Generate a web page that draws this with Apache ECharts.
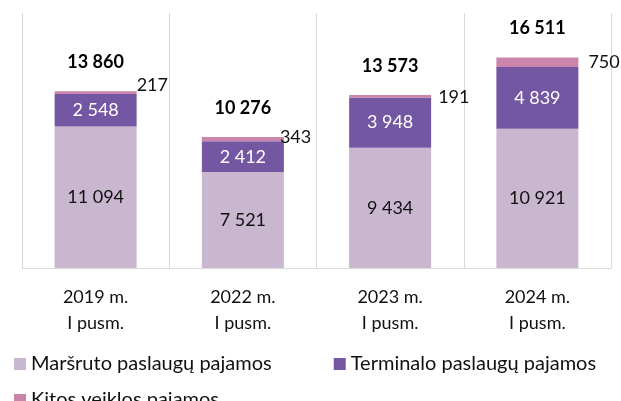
<!DOCTYPE html>
<html>
<head>
<meta charset="utf-8">
<script src="https://cdn.jsdelivr.net/npm/echarts@6/dist/echarts.min.js"></script>
<style>
html,body{margin:0;padding:0;background:#fff;}
#c{width:621px;height:401px;}
</style>
</head>
<body>
<div id="c"></div>
<script>
var categories = ['2019 m.\nI pusm.', '2022 m.\nI pusm.', '2023 m.\nI pusm.', '2024 m.\nI pusm.'];
var marsrutoValues = [11094, 7521, 9434, 10921];
var terminaloValues = [2548, 2412, 3948, 4839];
var kitosValues = [217, 343, 191, 750];
var totalValues = [13860, 10276, 13573, 16511];
var seriesNames = ['Maršruto paslaugų pajamos', 'Terminalo paslaugų pajamos', 'Kitos veiklos pajamos'];

var FONT = 'Lato';
var TXT = '#111';
function fmt(v) {
  return String(v).replace(/\B(?=(\d{3})+(?!\d))/g, ' ');
}
var kitosOffsets = [[-5, -7], [-9, -2], [2, 1], [5, 0]];

var chart = echarts.init(document.getElementById('c'), null, {renderer: 'canvas'});
chart.setOption({
  animation: false,
  textStyle: {fontFamily: FONT},
  grid: {left: 22, right: 10, top: 13, bottom: 133},
  legend: [{
    data: [seriesNames[0], seriesNames[1]],
    left: 9, top: 349,
    itemWidth: 12, itemHeight: 12, itemGap: 62,
    icon: 'rect',
    textStyle: {fontFamily: FONT, fontSize: 20, color: TXT}
  }, {
    data: [seriesNames[2]],
    left: 9, top: 385,
    itemWidth: 12, itemHeight: 12,
    icon: 'rect',
    textStyle: {fontFamily: FONT, fontSize: 20, color: TXT}
  }],
  xAxis: {
    type: 'category',
    data: categories,
    axisLine: {show: true, lineStyle: {color: '#d9d9d9', width: 1}},
    axisTick: {show: false},
    splitLine: {show: true, lineStyle: {color: '#d9d9d9', width: 1}},
    axisLabel: {fontFamily: FONT, fontSize: 18, color: TXT, lineHeight: 26, margin: 16}
  },
  yAxis: {
    type: 'value', min: 0, max: 20000, interval: 5000,
    show: false,
    splitLine: {show: false}
  },
  series: [{
    name: seriesNames[0], type: 'bar', stack: 'a', barWidth: 82,
    data: marsrutoValues,
    itemStyle: {color: '#c9b7d0'},
    label: {show: true, position: 'inside', color: TXT, fontFamily: FONT, fontSize: 18,
      formatter: function (p) { return fmt(p.value); }}
  }, {
    name: seriesNames[1], type: 'bar', stack: 'a', barWidth: 82,
    data: terminaloValues,
    itemStyle: {color: '#7457a3'},
    label: {show: true, position: 'inside', color: '#fff', fontFamily: FONT, fontSize: 18,
      formatter: function (p) { return fmt(p.value); }}
  }, {
    name: seriesNames[2], type: 'bar', stack: 'a', barWidth: 82,
    data: kitosValues.map(function (v, i) {
      return {value: v, label: {offset: kitosOffsets[i]}};
    }),
    itemStyle: {color: '#cc85aa'},
    label: {show: true, position: 'right', distance: 5, color: TXT, fontFamily: FONT, fontSize: 18,
      formatter: function (p) { return fmt(p.value); }}
  }, {
    name: 'Iš viso', type: 'line',
    data: totalValues,
    symbol: 'circle',
    symbolSize: 2,
    showSymbol: true,
    itemStyle: {color: 'rgba(0,0,0,0)'},
    lineStyle: {opacity: 0},
    silent: true,
    z: 10,
    label: {show: true, position: 'top', distance: 19, color: '#000', fontWeight: 'bold', fontFamily: FONT, fontSize: 18,
      formatter: function (p) { return fmt(p.value); }}
  }]
});
</script>
</body>
</html>
